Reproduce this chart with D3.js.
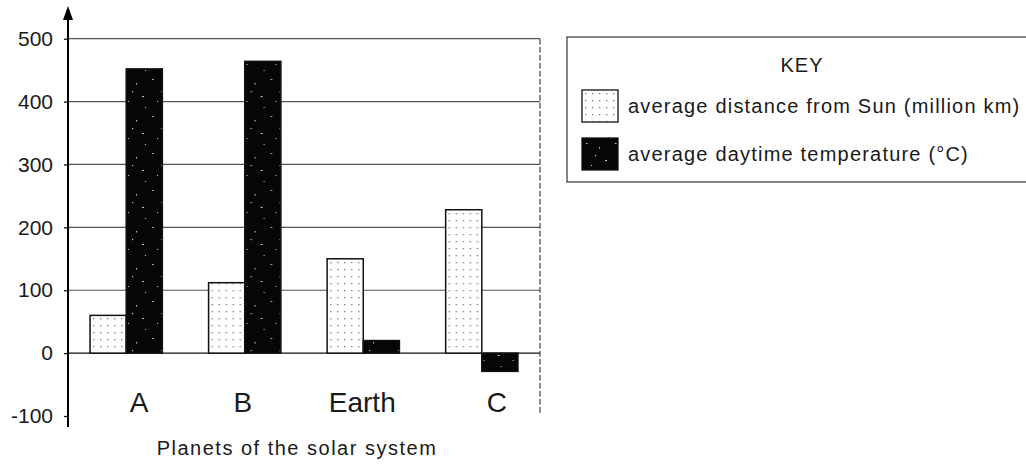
<!DOCTYPE html>
<html lang="en">
<head>
<meta charset="UTF-8">
<title>Planets</title>
<script src="https://d3js.org/d3.v7.min.js"></script>
<style>
    body { margin: 0; background: #fff; }
    text { font-family: "Liberation Sans", Arial, sans-serif; fill: #1a1a1a; }
    .grid line { stroke: #555; stroke-width: 1.2px; }
    .bar { stroke: #111; stroke-width: 1.5px; }
</style>
</head>
<body>
<svg width="1026" height="464"></svg>
<script>
    var planets = ["A", "B", "Earth", "C"];
    var distance = [60, 112, 150, 228];      // million km
    var temperature = [452, 464, 20, -29];   // degrees C
    var yTicks = [-100, 0, 100, 200, 300, 400, 500];
    var seriesNames = ["average distance from Sun (million km)", "average daytime temperature (\u00B0C)"];

    var svg = d3.select("svg");
    // note: "top" is taken by window.top, so plot* names
    var plotLeft = 68, plotRight = 540, plotTop = 38.7, plotBottom = 416;

    var defs = svg.append("defs");
    // light dotted fill
    var dots = defs.append("pattern").attr("id", "dots")
        .attr("width", 7).attr("height", 7).attr("patternUnits", "userSpaceOnUse");
    dots.append("rect").attr("width", 7).attr("height", 7).attr("fill", "#fff");
    dots.append("rect").attr("x", 3).attr("y", 3).attr("width", 1.3).attr("height", 1.3).attr("fill", "#777");
    // dark speckled fill - a few scattered specks so it doesn't look like a grid
    var speck = defs.append("pattern").attr("id", "speck")
        .attr("width", 29).attr("height", 37).attr("patternUnits", "userSpaceOnUse");
    speck.append("rect").attr("width", 29).attr("height", 37).attr("fill", "#060606");
    [[4, 5, 1.5, 1], [17, 9, 1, 1.5], [23, 22, 2, 1], [9, 27, 1, 1], [13, 17, 1.2, 1.2], [26, 33, 1, 1]]
        .forEach(function (s) {
            speck.append("rect").attr("x", s[0]).attr("y", s[1])
                .attr("width", s[2]).attr("height", s[3]).attr("fill", "#ccc");
        });

    var y = d3.scaleLinear().domain([-100, 500]).range([plotBottom, plotTop]);
    var x0 = d3.scaleBand().domain(planets).range([plotLeft, plotRight])
        .paddingInner(0.39).paddingOuter(0.186);
    var x1 = d3.scaleBand().domain([0, 1]).range([0, x0.bandwidth()]);

    // gridlines
    svg.append("g").attr("class", "grid")
        .selectAll("line")
        .data(yTicks.filter(function (d) { return d >= 0; }))
        .enter().append("line")
        .attr("x1", plotLeft).attr("x2", plotRight)
        .attr("y1", function (d) { return y(d); })
        .attr("y2", function (d) { return y(d); })
        .style("stroke", function (d) { return d === 0 ? "#111" : null; });

    // dashed right border
    svg.append("line")
        .attr("x1", plotRight).attr("x2", plotRight)
        .attr("y1", y(500)).attr("y2", y(-100) - 3)
        .attr("stroke", "#444").attr("stroke-width", 1.2)
        .attr("stroke-dasharray", "6,2");

    // bars
    var rows = planets.map(function (p, i) { return { p: p, v: [distance[i], temperature[i]] }; });
    var groups = svg.append("g").selectAll("g")
        .data(rows).enter().append("g")
        .attr("transform", function (d) { return "translate(" + x0(d.p) + ",0)"; });
    groups.selectAll("rect")
        .data(function (d) { return d.v; })
        .enter().append("rect")
        .attr("class", "bar")
        .attr("x", function (d, i) { return x1(i); })
        .attr("width", x1.bandwidth())
        .attr("y", function (d) { return y(Math.max(0, d)); })
        .attr("height", function (d) { return Math.abs(y(d) - y(0)); })
        .attr("fill", function (d, i) { return i === 0 ? "url(#dots)" : "url(#speck)"; });

    // y axis
    var yAxis = svg.append("g")
        .attr("transform", "translate(" + plotLeft + ",0)")
        .call(d3.axisLeft(y).tickValues(yTicks).tickSize(4).tickPadding(11)
            .tickFormat(function (d) { return d < 0 ? "-" + Math.abs(d) : d; }));
    yAxis.select(".domain").remove();
    yAxis.selectAll("line").attr("stroke", "#111").attr("stroke-width", 1.3);
    yAxis.selectAll("text")
        .style("font-size", "21px")
        .style("font-family", "'Liberation Sans', Arial, sans-serif")
        .attr("fill", "#1a1a1a");

    svg.append("line")
        .attr("x1", plotLeft).attr("x2", plotLeft)
        .attr("y1", 16).attr("y2", 427)
        .attr("stroke", "#000").attr("stroke-width", 2);
    svg.append("path")
        .attr("d", "M" + plotLeft + ",6 L" + (plotLeft - 5) + ",20 L" + (plotLeft + 5) + ",20 Z")
        .attr("fill", "#000");

    // category labels (hand lettered, not exactly centred)
    var labelShift = [13, -2, -1, 15];
    svg.append("g").selectAll("text")
        .data(planets).enter().append("text")
        .attr("x", function (d, i) { return x0(d) + x0.bandwidth() / 2 + labelShift[i]; })
        .attr("y", 412)
        .attr("text-anchor", "middle")
        .style("font-size", "28px")
        .text(function (d) { return d; });

    svg.append("text")
        .attr("x", 297).attr("y", 455)
        .attr("text-anchor", "middle")
        .style("font-size", "20px")
        .style("letter-spacing", "1.5px")
        .text("Planets of the solar system");

    // key
    var key = svg.append("g");
    key.append("rect")
        .attr("x", 567).attr("y", 37).attr("width", 470).attr("height", 145)
        .attr("fill", "none").attr("stroke", "#333").attr("stroke-width", 1.2);
    key.append("text")
        .attr("x", 802).attr("y", 72)
        .attr("text-anchor", "middle")
        .style("font-size", "20px")
        .style("letter-spacing", "1px")
        .text("KEY");
    var items = key.selectAll("g.item")
        .data(seriesNames).enter().append("g").attr("class", "item")
        .attr("transform", function (d, i) { return "translate(582," + (90 + i * 48) + ")"; });
    items.append("rect")
        .attr("width", 36).attr("height", 32)
        .attr("fill", function (d, i) { return i === 0 ? "url(#dots)" : "url(#speck)"; })
        .attr("stroke", "#111").attr("stroke-width", 1.3);
    items.append("text")
        .attr("x", 46).attr("y", 23)
        .style("font-size", "20px")
        .style("letter-spacing", "1.2px")
        .text(function (d) { return d; });
</script>
</body>
</html>
